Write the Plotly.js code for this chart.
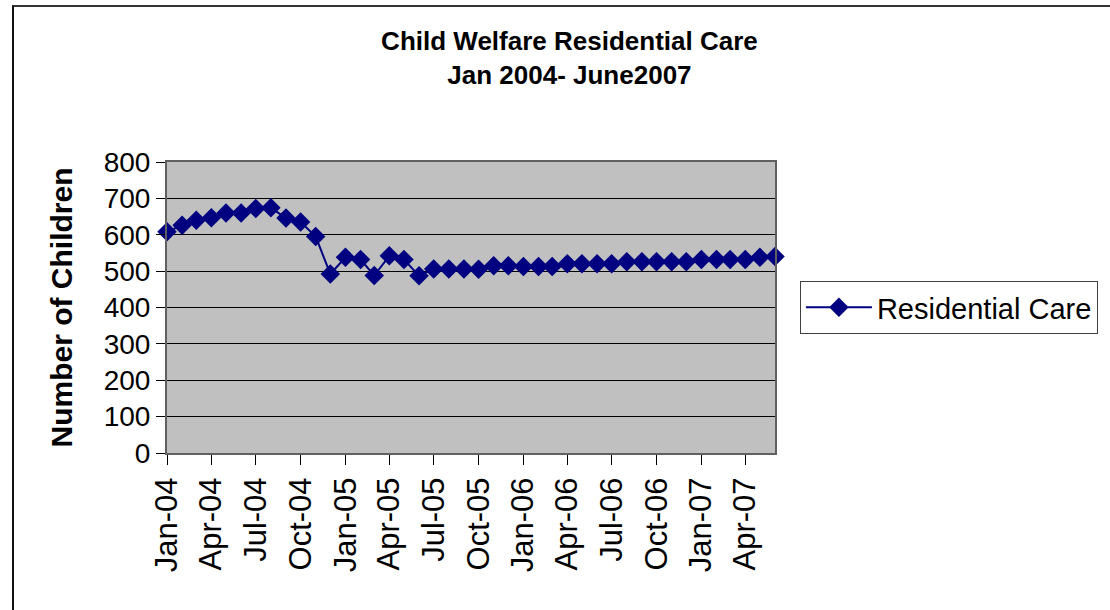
<!DOCTYPE html>
<html>
<head>
<meta charset="utf-8">
<script src="https://cdn.plot.ly/plotly-3.0.1.min.js"></script>
<style>
  html, body { margin: 0; padding: 0; background: #fff; overflow: hidden; }
  #chart { width: 1110px; height: 610px; position: absolute; left: 0; top: 0; }
  #frame { position: absolute; left: 12px; top: 5px; width: 1200px; height: 700px;
           border-left: 2px solid #111; border-top: 2px solid #333; pointer-events: none; }
</style>
</head>
<body>
<div id="chart"></div>
<div id="frame"></div>
<script>
// Months Jan 2004 - Jun 2007
const months = [
  "2004-01-01","2004-02-01","2004-03-01","2004-04-01","2004-05-01","2004-06-01",
  "2004-07-01","2004-08-01","2004-09-01","2004-10-01","2004-11-01","2004-12-01",
  "2005-01-01","2005-02-01","2005-03-01","2005-04-01","2005-05-01","2005-06-01",
  "2005-07-01","2005-08-01","2005-09-01","2005-10-01","2005-11-01","2005-12-01",
  "2006-01-01","2006-02-01","2006-03-01","2006-04-01","2006-05-01","2006-06-01",
  "2006-07-01","2006-08-01","2006-09-01","2006-10-01","2006-11-01","2006-12-01",
  "2007-01-01","2007-02-01","2007-03-01","2007-04-01","2007-05-01","2007-06-01"
];
const residentialCare = [
  608, 626, 640, 647, 660, 660, 672, 674, 646, 635, 595, 492,
  538, 532, 488, 542, 532, 487, 506, 506, 506, 505, 515, 515,
  513, 513, 513, 520, 520, 520, 520, 526, 526, 526, 526, 526,
  532, 532, 532, 532, 538, 540
];
const seriesName = "Residential Care";
const chartTitle = "Child Welfare Residential Care<br>Jan 2004- June2007";
const yTitle = "Number of Children";

const FONT = "'Liberation Sans', Arial, sans-serif";

const trace = {
  x: months,
  y: residentialCare,
  name: seriesName,
  type: "scatter",
  mode: "lines+markers",
  cliponaxis: false,
  line: { color: "#000080", width: 2 },
  marker: { symbol: "diamond", size: 15, color: "#000080" }
};

const layout = {
  width: 1110,
  height: 610,
  margin: { l: 167, r: 335, t: 162, b: 157 },
  paper_bgcolor: "#ffffff",
  plot_bgcolor: "#c0c0c0",
  font: { family: FONT, color: "#000" },
  showlegend: true,
  title: {
    text: chartTitle,
    font: { family: FONT, size: 26, color: "#000", weight: "bold" },
    x: 0.513, xref: "container", xanchor: "center",
    y: 0.918, yref: "container", yanchor: "top"
  },
  xaxis: {
    type: "date",
    range: ["2004-01-01", "2007-06-01"],
    tick0: "2004-01-01",
    dtick: "M3",
    tickformat: "%b-%y",
    tickangle: -90,
    ticks: "outside",
    ticklen: 10,
    tickcolor: "#000",
    tickfont: { family: FONT, size: 31, color: "#000" },
    showgrid: false,
    showline: true,
    linecolor: "#606060",
    linewidth: 2,
    mirror: true,
    zeroline: false,
    automargin: false
  },
  yaxis: {
    range: [0, 800],
    dtick: 100,
    ticks: "outside",
    ticklen: 9,
    tickcolor: "#000",
    tickfont: { family: FONT, size: 28, color: "#000" },
    showgrid: true,
    gridcolor: "#000",
    gridwidth: 1,
    showline: true,
    linecolor: "#606060",
    linewidth: 2,
    mirror: true,
    zeroline: false,
    automargin: false,
    title: {
      text: yTitle,
      font: { family: FONT, size: 30, color: "#000", weight: "bold" },
      standoff: 22
    }
  },
  legend: {
    x: 1.041, xanchor: "left",
    y: 0.5, yanchor: "middle",
    bgcolor: "#ffffff",
    bordercolor: "#404040",
    borderwidth: 1,
    itemwidth: 66,
    font: { family: FONT, size: 29, color: "#000" }
  }
};

Plotly.newPlot("chart", [trace], layout, { staticPlot: true, displayModeBar: false });
</script>
</body>
</html>
